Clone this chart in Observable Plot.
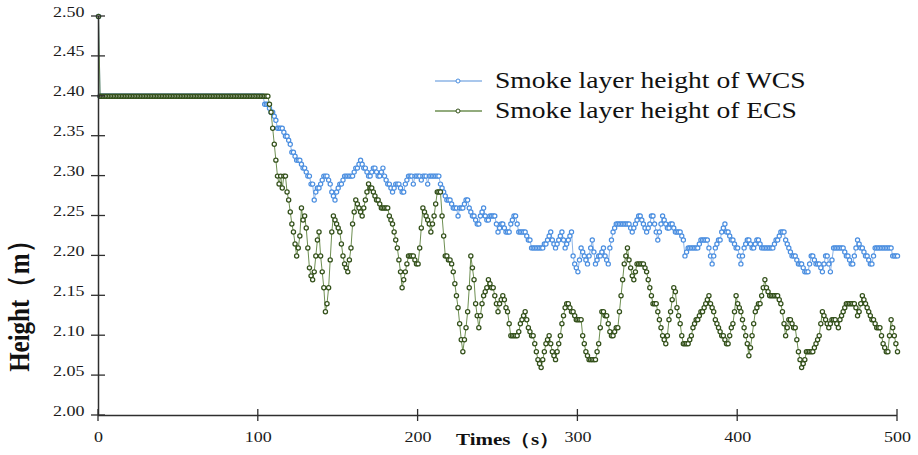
<!DOCTYPE html>
<html><head><meta charset="utf-8">
<script src="https://cdn.jsdelivr.net/npm/d3@7"></script>
<script src="https://cdn.jsdelivr.net/npm/@observablehq/plot@0.6"></script>
<style>body{margin:0;background:#fff}</style>
</head><body><div id="chart"></div>
<script>
// Time step: 1 s (index = time in s)
const seriesNames = ["Smoke layer height of WCS", "Smoke layer height of ECS"];
const xTicks = [0, 100, 200, 300, 400, 500];
const yTicks = [2.00, 2.05, 2.10, 2.15, 2.20, 2.25, 2.30, 2.35, 2.40, 2.45, 2.50];
const xLabel = "Times（s）";
const yLabel = "Height（m）";

// WCS smoke layer height (m), t = 0..500 s
const wcsHeight = [
2.5,
2.4,2.4,2.4,2.4,2.4,2.4,2.4,2.4,2.4,2.4,
2.4,2.4,2.4,2.4,2.4,2.4,2.4,2.4,2.4,2.4,
2.4,2.4,2.4,2.4,2.4,2.4,2.4,2.4,2.4,2.4,
2.4,2.4,2.4,2.4,2.4,2.4,2.4,2.4,2.4,2.4,
2.4,2.4,2.4,2.4,2.4,2.4,2.4,2.4,2.4,2.4,
2.4,2.4,2.4,2.4,2.4,2.4,2.4,2.4,2.4,2.4,
2.4,2.4,2.4,2.4,2.4,2.4,2.4,2.4,2.4,2.4,
2.4,2.4,2.4,2.4,2.4,2.4,2.4,2.4,2.4,2.4,
2.4,2.4,2.4,2.4,2.4,2.4,2.4,2.4,2.4,2.4,
2.4,2.4,2.4,2.4,2.4,2.4,2.4,2.4,2.4,2.4,
2.4,2.4,2.4,
/*104*/2.39,2.39,2.39,2.385,2.38,2.38,2.375,2.37,2.36,2.36,
/*114*/2.36,2.36,2.355,2.35,2.35,2.345,2.34,2.33,2.33,2.325,
/*124*/2.32,2.32,2.32,2.315,2.31,2.31,2.305,2.3,2.3,2.29,
/*134*/2.29,2.27,2.28,2.285,2.285,2.29,2.295,2.3,2.3,2.3,
/*144*/2.295,2.29,2.28,2.275,2.27,2.28,2.285,2.29,2.29,2.295,
/*154*/2.3,2.3,2.3,2.3,2.3,2.3,2.305,2.31,2.31,2.315,
/*164*/2.32,2.315,2.31,2.31,2.305,2.3,2.3,2.305,2.31,2.31,
/*174*/2.305,2.3,2.3,2.305,2.31,2.3,2.295,2.29,2.29,2.285,
/*184*/2.28,2.285,2.29,2.29,2.29,2.285,2.28,2.28,2.29,2.295,
/*194*/2.3,2.3,2.3,2.29,2.3,2.3,2.3,2.3,2.295,2.3,
/*204*/2.3,2.3,2.29,2.3,2.3,2.3,2.3,2.3,2.3,2.3,
/*214*/2.29,2.285,2.28,2.275,2.27,2.27,2.27,2.265,2.26,2.26,
/*224*/2.26,2.25,2.26,2.26,2.26,2.265,2.27,2.27,2.26,2.255,
/*234*/2.25,2.25,2.245,2.24,2.24,2.25,2.255,2.26,2.25,2.245,
/*244*/2.245,2.25,2.25,2.25,2.25,2.24,2.23,2.235,2.24,2.24,
/*254*/2.235,2.23,2.23,2.23,2.24,2.245,2.25,2.25,2.24,2.23,
/*264*/2.23,2.23,2.23,2.23,2.225,2.22,2.22,2.21,2.21,2.21,
/*274*/2.21,2.21,2.21,2.21,2.21,2.215,2.215,2.22,2.225,2.23,
/*284*/2.22,2.215,2.21,2.215,2.22,2.225,2.23,2.22,2.21,2.215,
/*294*/2.22,2.225,2.23,2.2,2.19,2.185,2.18,2.195,2.21,2.205,
/*304*/2.2,2.195,2.19,2.2,2.21,2.22,2.205,2.19,2.195,2.2,
/*314*/2.2,2.205,2.21,2.2,2.195,2.19,2.21,2.22,2.23,2.235,
/*324*/2.24,2.24,2.24,2.24,2.24,2.24,2.24,2.24,2.24,2.235,
/*334*/2.23,2.235,2.24,2.245,2.25,2.25,2.245,2.24,2.235,2.23,
/*344*/2.235,2.24,2.25,2.25,2.24,2.23,2.22,2.23,2.24,2.25,
/*354*/2.245,2.24,2.235,2.235,2.24,2.24,2.235,2.23,2.23,2.23,
/*364*/2.23,2.225,2.22,2.2,2.205,2.21,2.21,2.21,2.21,2.21,
/*374*/2.21,2.21,2.215,2.22,2.22,2.22,2.22,2.22,2.21,2.2,
/*384*/2.19,2.2,2.21,2.215,2.22,2.22,2.23,2.235,2.24,2.23,
/*394*/2.23,2.225,2.22,2.22,2.215,2.21,2.21,2.2,2.19,2.2,
/*404*/2.21,2.215,2.22,2.22,2.215,2.21,2.21,2.215,2.22,2.22,
/*414*/2.215,2.21,2.21,2.21,2.21,2.21,2.21,2.21,2.21,2.215,
/*424*/2.22,2.22,2.225,2.23,2.23,2.23,2.22,2.215,2.21,2.205,
/*434*/2.2,2.2,2.2,2.195,2.19,2.19,2.19,2.185,2.18,2.18,
/*444*/2.18,2.19,2.2,2.2,2.195,2.19,2.19,2.19,2.185,2.18,
/*454*/2.19,2.2,2.2,2.19,2.18,2.195,2.21,2.21,2.21,2.21,
/*464*/2.21,2.21,2.21,2.205,2.2,2.2,2.195,2.19,2.19,2.2,
/*474*/2.21,2.22,2.215,2.21,2.21,2.205,2.2,2.2,2.195,2.19,
/*484*/2.19,2.2,2.21,2.21,2.21,2.21,2.21,2.21,2.21,2.21,
/*494*/2.21,2.21,2.21,2.2,2.2,2.2,2.2
];

// ECS smoke layer height (m), t = 0..500 s
const ecsHeight = [
2.5,
2.4,2.4,2.4,2.4,2.4,2.4,2.4,2.4,2.4,2.4,
2.4,2.4,2.4,2.4,2.4,2.4,2.4,2.4,2.4,2.4,
2.4,2.4,2.4,2.4,2.4,2.4,2.4,2.4,2.4,2.4,
2.4,2.4,2.4,2.4,2.4,2.4,2.4,2.4,2.4,2.4,
2.4,2.4,2.4,2.4,2.4,2.4,2.4,2.4,2.4,2.4,
2.4,2.4,2.4,2.4,2.4,2.4,2.4,2.4,2.4,2.4,
2.4,2.4,2.4,2.4,2.4,2.4,2.4,2.4,2.4,2.4,
2.4,2.4,2.4,2.4,2.4,2.4,2.4,2.4,2.4,2.4,
2.4,2.4,2.4,2.4,2.4,2.4,2.4,2.4,2.4,2.4,
2.4,2.4,2.4,2.4,2.4,2.4,2.4,2.4,2.4,2.4,
2.4,2.4,2.4,2.4,2.4,2.4,
/*107*/2.39,2.38,2.36,2.34,2.32,2.3,2.29,2.3,2.285,2.3,
/*117*/2.3,2.28,2.27,2.255,2.24,2.23,2.215,2.2,2.21,2.225,
/*127*/2.26,2.245,2.25,2.235,2.21,2.185,2.175,2.17,2.18,2.2,
/*137*/2.22,2.23,2.2,2.18,2.16,2.13,2.14,2.16,2.195,2.23,
/*147*/2.25,2.245,2.24,2.235,2.23,2.215,2.2,2.19,2.185,2.18,
/*157*/2.195,2.21,2.24,2.255,2.27,2.265,2.26,2.255,2.25,2.26,
/*167*/2.27,2.28,2.29,2.285,2.285,2.28,2.275,2.27,2.27,2.265,
/*177*/2.26,2.26,2.26,2.26,2.26,2.25,2.245,2.24,2.23,2.22,
/*187*/2.21,2.195,2.18,2.16,2.17,2.18,2.19,2.2,2.2,2.2,
/*197*/2.2,2.195,2.19,2.19,2.21,2.235,2.26,2.255,2.25,2.245,
/*207*/2.24,2.23,2.24,2.25,2.265,2.28,2.28,2.28,2.25,2.225,
/*217*/2.2,2.2,2.195,2.195,2.19,2.18,2.165,2.15,2.135,2.115,
/*227*/2.095,2.08,2.095,2.11,2.13,2.16,2.2,2.185,2.17,2.14,
/*237*/2.125,2.11,2.125,2.14,2.15,2.155,2.16,2.17,2.165,2.16,
/*247*/2.16,2.15,2.14,2.13,2.14,2.145,2.15,2.145,2.135,2.13,
/*257*/2.115,2.1,2.1,2.1,2.1,2.1,2.105,2.115,2.12,2.125,
/*267*/2.13,2.12,2.11,2.105,2.1,2.1,2.09,2.08,2.07,2.065,
/*277*/2.06,2.07,2.08,2.09,2.095,2.1,2.09,2.08,2.075,2.07,
/*287*/2.08,2.09,2.1,2.115,2.125,2.135,2.14,2.14,2.135,2.13,
/*297*/2.13,2.125,2.12,2.12,2.12,2.12,2.1,2.09,2.08,2.075,
/*307*/2.07,2.07,2.07,2.07,2.07,2.08,2.09,2.11,2.13,2.13,
/*317*/2.125,2.125,2.115,2.105,2.1,2.1,2.105,2.11,2.11,2.13,
/*327*/2.15,2.17,2.19,2.2,2.21,2.195,2.185,2.175,2.17,2.18,
/*337*/2.19,2.19,2.19,2.19,2.19,2.185,2.18,2.17,2.16,2.15,
/*347*/2.14,2.14,2.14,2.13,2.12,2.11,2.1,2.095,2.09,2.1,
/*357*/2.12,2.13,2.145,2.16,2.155,2.135,2.125,2.115,2.1,2.09,
/*367*/2.09,2.09,2.09,2.095,2.1,2.11,2.115,2.12,2.12,2.125,
/*377*/2.13,2.13,2.135,2.14,2.145,2.15,2.14,2.135,2.13,2.12,
/*387*/2.115,2.11,2.105,2.1,2.1,2.095,2.09,2.09,2.1,2.11,
/*397*/2.115,2.13,2.15,2.14,2.135,2.13,2.12,2.11,2.1,2.09,
/*407*/2.075,2.085,2.1,2.115,2.13,2.135,2.14,2.14,2.15,2.16,
/*417*/2.17,2.16,2.155,2.15,2.15,2.15,2.15,2.15,2.15,2.145,
/*427*/2.14,2.13,2.115,2.1,2.11,2.12,2.12,2.115,2.11,2.11,
/*437*/2.095,2.08,2.07,2.06,2.065,2.07,2.08,2.08,2.08,2.08,
/*447*/2.08,2.085,2.09,2.095,2.1,2.115,2.13,2.125,2.12,2.115,
/*457*/2.11,2.115,2.12,2.12,2.12,2.115,2.11,2.12,2.125,2.13,
/*467*/2.135,2.14,2.14,2.14,2.14,2.14,2.14,2.135,2.125,2.13,
/*477*/2.14,2.15,2.145,2.14,2.135,2.13,2.125,2.12,2.12,2.115,
/*487*/2.11,2.11,2.11,2.1,2.09,2.085,2.08,2.08,2.1,2.12,
/*497*/2.11,2.1,2.09,2.08
];

const lineColors = ["#8db4e6", "#6e8f52"];
const dotColors = ["#4a8ee0", "#33501a"];
const axisColor = "#2e2e2e";
const serif = "'Liberation Serif','Times New Roman',serif";

const wcs = wcsHeight.map((h, i) => ({t: i, h}));
const ecs = ecsHeight.map((h, i) => ({t: i, h}));

// tick marks that cross the axis lines, placed through the plot's own scales
function crossTicks(index, scales) {
  const {x, y} = scales;
  const g = d3.create("svg:g").attr("stroke", axisColor).attr("stroke-width", 1.3);
  yTicks.forEach(v => g.append("line")
    .attr("x1", x(0) - 7).attr("x2", x(0) + 7).attr("y1", y(v)).attr("y2", y(v)));
  xTicks.forEach(v => g.append("line")
    .attr("x1", x(v)).attr("x2", x(v)).attr("y1", y(2.0) - 6).attr("y2", y(2.0) + 6));
  return g.node();
}

function legendMark() {
  const g = d3.create("svg:g");
  const x0 = 435, y0 = 81, gap = 30;
  seriesNames.forEach((name, i) => {
    const y = y0 + i * gap;
    g.append("line").attr("x1", x0).attr("x2", x0 + 47).attr("y1", y).attr("y2", y)
      .attr("stroke", lineColors[i]).attr("stroke-width", 1.6);
    g.append("circle").attr("cx", x0 + 23).attr("cy", y).attr("r", 2)
      .attr("fill", "#fff").attr("stroke", dotColors[i]).attr("stroke-width", 1);
    g.append("text").attr("x", x0 + 60).attr("y", y).attr("dy", "0.32em")
      .attr("text-anchor", "start")
      .attr("font-family", serif).attr("font-size", 23).attr("fill", "#111").text(name);
  });
  return g.node();
}

const chart = Plot.plot({
  width: 918, height: 455,
  marginTop: 16, marginRight: 21, marginBottom: 40, marginLeft: 98,
  style: {fontFamily: serif, fontSize: "15px", color: "#1a1a1a", background: "#fff"},
  x: {domain: [0, 500], label: null},
  y: {domain: [2.0, 2.5], label: null},
  marks: [
    Plot.axisX({ticks: xTicks, tickSize: 0, tickPadding: 26, tickFormat: d => String(d), fontFamily: serif, fontSize: 15}),
    Plot.axisY({ticks: yTicks, tickSize: 0, tickPadding: 14, tickFormat: d => d.toFixed(2), fontFamily: serif, fontSize: 15}),
    Plot.line(wcs, {x: "t", y: "h", stroke: lineColors[0], strokeWidth: 1}),
    Plot.dot(wcs, {x: "t", y: "h", r: 2.1, stroke: dotColors[0], fill: "#fff", strokeWidth: 1.2}),
    Plot.line(ecs, {x: "t", y: "h", stroke: lineColors[1], strokeWidth: 1}),
    Plot.dot(ecs, {x: "t", y: "h", r: 2.1, stroke: dotColors[1], fill: "#fff", strokeWidth: 1.25}),
    Plot.ruleX([0], {stroke: axisColor, strokeWidth: 1.5}),
    Plot.ruleY([2.0], {stroke: axisColor, strokeWidth: 1.5}),
    crossTicks,
    Plot.text([yLabel], {frameAnchor: "left", textAnchor: "middle", dx: -70, dy: 84, rotate: -90, fontWeight: "bold", fontSize: 25, fontFamily: serif, fill: "#111"}),
    Plot.text([xLabel], {frameAnchor: "bottom", textAnchor: "middle", dx: 10, dy: 29, fontWeight: "bold", fontSize: 17.5, fontFamily: serif, fill: "#111"}),
    legendMark
  ]
});

// widen glyphs horizontally, as in the reference picture
const K = 1.2;
d3.select(chart).selectAll("text").each(function() {
  const el = d3.select(this);
  const tr = el.attr("transform") || "";
  const x = +el.attr("x") || 0, y = +el.attr("y") || 0;
  const rotated = /rotate\(/.test(tr);
  el.attr("x", null).attr("y", null);
  el.attr("transform", `${tr} translate(${x},${y}) ${rotated ? `scale(1,${K})` : `scale(${K},1)`}`);
});

document.getElementById("chart").appendChild(chart);
</script></body></html>
